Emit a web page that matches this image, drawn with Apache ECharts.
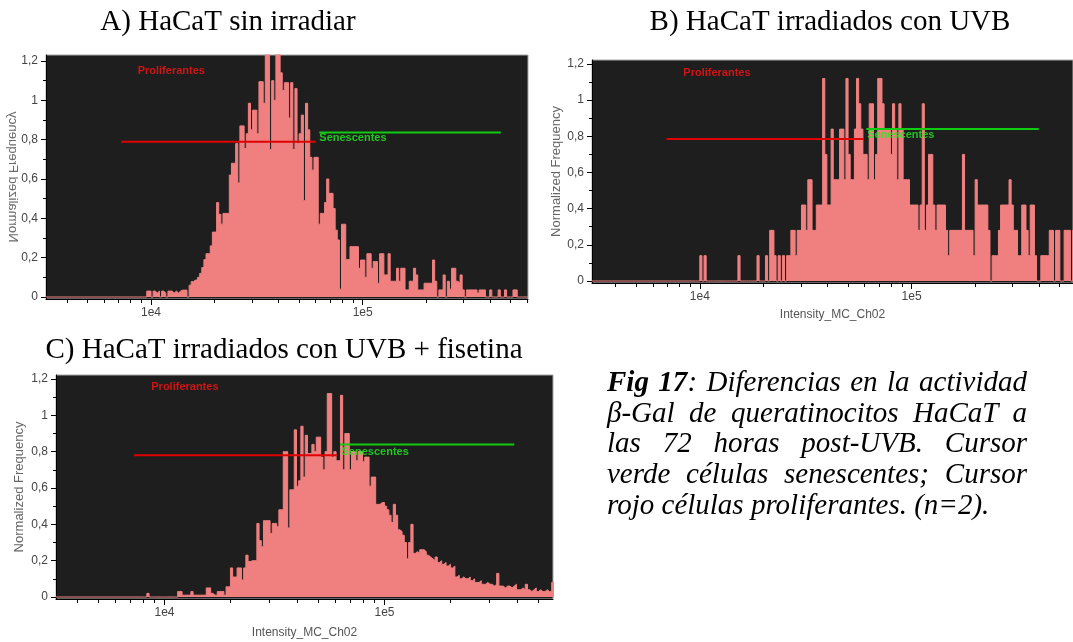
<!DOCTYPE html>
<html>
<head>
<meta charset="utf-8">
<script src="https://cdn.jsdelivr.net/npm/echarts@6/dist/echarts.min.js"></script>
<style>
html,body{margin:0;padding:0;background:#fff;}
#chart{position:absolute;left:0;top:0;width:1073px;height:642px;}
#caption{position:absolute;left:607px;top:366px;width:420px;font-family:"Liberation Serif","Times New Roman",serif;font-style:italic;font-size:29px;line-height:30.7px;color:#000;}
#caption div{text-align:justify;text-align-last:justify;white-space:nowrap;}
#caption div.last{text-align:left;text-align-last:left;}
</style>
</head>
<body>
<div id="chart"></div>
<div id="caption">
<div><b>Fig 17</b>: Diferencias en la actividad</div>
<div>β-Gal de queratinocitos HaCaT a</div>
<div>las 72 horas post-UVB. Cursor</div>
<div>verde células senescentes; Cursor</div>
<div class="last">rojo células proliferantes. (n=2).</div>
</div>
<script>
// ---------------- DATA ----------------
const panelTitles = ['A) HaCaT sin irradiar', 'B) HaCaT irradiados con UVB', 'C) HaCaT irradiados con UVB + fisetina'];
const yAxisName = 'Normalized Frequency';
const xAxisName = 'Intensity_MC_Ch02';
const cursorNames = ['Proliferantes', 'Senescentes'];

// histogram bins: equal width in log10(intensity)
const binWidthLogA = 0.01;
const binWidthLogB = 0.01;
const binWidthLogC = 0.01;
const startLogA = 3.98;
const startLogB = 3.98;
const startLogC = 3.90;

const freqA = [
  0.03,0.03,0,0.03,0.02,0.03,0,0.03,0.02,0,
  0.03,0.03,0.02,0.03,0.02,0.03,0.035,0.035,0.035,0,
  0.06,0.078,0.086,0.086,0.1,0.12,0.15,0.19,0.22,0.22,
  0.26,0.33,0.33,0.48,0.42,0.37,0.425,0.425,0.425,0.62,
  0.68,0.68,0.78,0.58,0.87,0.87,0.755,0.83,0.985,0.85,
  0.95,0.95,0.83,1.095,1.095,0.985,1.25,1.25,0.75,1.1,
  1.0,1.25,1.25,1.14,1.05,1.09,1.09,0.91,1.09,0.75,
  1.06,0.78,0.83,0.925,0.49,0.985,0.85,0.71,0.645,0.71,
  0.71,0.37,0.425,0.425,0.48,0.6,0.527,0.527,0.45,0.34,
  0.29,0.04,0.37,0.37,0.19,0.19,0.256,0.256,0.256,0.256,
  0.146,0.188,0.188,0.1,0.22,0.22,0.146,0.18,0.18,0.07,
  0.22,0.22,0.112,0.112,0.22,0.08,0.08,0.08,0.146,0.08,
  0.146,0.146,0.036,0.036,0.08,0.08,0.146,0.112,0.036,0.036,
  0.036,0.07,0.07,0.07,0.07,0.188,0.08,0,0.036,0.036,
  0.112,0,0.08,0.04,0.146,0.146,0.08,0.07,0.112,0.036,
  0,0.036,0.036,0.036,0.036,0.036,0.02,0.036,0.036,0.036,
  0,0,0.036,0,0,0,0.036,0,0,0.036,
  0,0,0,0.036,0.036,0,0
];
const freqB = [
  0,0,0.14,0,0.14,0,0,0,0,0,
  0,0,0,0,0,0,0,0,0,0,
  0.14,0,0,0,0,0,0,0,0,0.14,
  0,0,0,0.14,0,0.28,0.28,0.14,0,0.14,
  0,0.14,0,0.14,0.14,0.28,0.28,0.14,0.28,0.28,
  0.42,0.42,0.28,0.56,0.56,0.28,0.28,0.42,0.42,0.42,
  1.12,0.7,0.42,0.42,0.84,0.56,0.56,0.56,0.84,0.84,
  0.56,1.12,0.7,0.56,0.56,0.84,1.12,0.98,0.84,0.7,
  0.7,0.56,0.98,0.98,0.56,0.7,1.12,1.12,0.98,0.84,
  0.84,0.84,0.7,0.98,0.84,0.56,0.98,0.84,0.56,0.56,
  0.56,0.42,0.42,0.42,0.42,0.28,0.42,0.98,0.28,0.42,
  0.7,0.7,0.42,0.28,0.42,0.42,0.42,0.42,0.28,0.14,
  0.28,0.28,0.28,0.28,0.28,0.28,0.7,0.28,0.28,0.28,
  0.28,0.14,0.56,0.42,0.42,0.42,0.42,0.42,0.28,0,
  0.14,0.14,0.14,0.28,0.42,0.42,0.42,0.42,0.56,0.42,
  0.28,0.28,0.14,0.14,0.42,0.42,0.28,0.14,0.42,0.42,
  0.14,0,0,0.14,0.14,0.14,0.14,0.28,0.28,0,
  0.28,0.28,0,0,0.28,0.28,0.28,0,0.28
];
const freqC = [
  0,0,0.02,0,0,0,0,0,0,0,
  0,0,0,0,0,0,0.03,0.03,0.01,0.01,
  0.01,0.01,0.03,0.01,0.01,0.01,0.01,0.01,0.01,0.05,
  0.05,0.02,0.01,0.01,0.03,0.03,0.03,0.01,0.056,0.056,
  0.16,0.11,0.11,0.16,0.16,0.094,0.16,0.23,0.195,0.2,
  0.2,0.2,0.405,0.31,0.277,0.42,0.42,0.42,0.35,0.405,
  0.405,0.387,0.48,0.48,0.8,0.8,0.38,0.59,0.59,0.92,
  0.61,0.64,0.94,0.66,0.89,0.79,0.79,0.84,0.8,0.88,
  0.88,0.77,0.7,0.8,1.12,1.12,0.77,0.8,0.75,0.75,
  1.11,0.7,0.9,0.9,0.7,0.8,0.8,0.75,0.8,0.8,
  0.745,0.77,0.77,0.61,0.66,0.66,0.51,0.51,0.52,0.52,
  0.5,0.48,0.45,0.41,0.51,0.45,0.37,0.36,0.34,0.3,
  0.21,0.3,0.4,0.24,0.25,0.24,0.26,0.26,0.25,0.23,
  0.22,0.21,0.2,0.22,0.19,0.2,0.18,0.19,0.17,0.18,
  0.16,0.17,0.11,0.12,0.1,0.11,0.1,0.1,0.11,0.09,
  0.1,0.08,0.08,0.09,0.07,0.07,0.08,0.07,0.07,0.06,
  0.07,0.13,0.06,0.06,0.05,0.06,0.06,0.05,0.06,0.07,
  0.04,0.04,0.05,0.04,0.07,0.04,0.03,0.04,0.05,0.03,
  0.04,0.03,0.03,0.04,0.03,0.03,0.08
];

// cursors: [[x start, y], [x end, y]] in intensity units
const cursorRedA = [[7230, 0.79], [60100, 0.79]];
const cursorGreenA = [[62400, 0.837], [449000, 0.837]];
const cursorRedB = [[6960, 0.785], [59400, 0.785]];
const cursorGreenB = [[61100, 0.84], [398000, 0.84]];
const cursorRedC = [[7280, 0.78], [60700, 0.78]];
const cursorGreenC = [[62800, 0.84], [389000, 0.84]];
// cursor label anchors [x, y]
const labelProlifA = [8650, 1.15];
const labelSenescA = [62400, 0.81];
const labelProlifB = [8360, 1.15];
const labelSenescB = [61700, 0.807];
const labelProlifC = [8710, 1.157];
const labelSenescC = [63800, 0.80];

// ticks
const xMajorTicks = [1e4, 1e5];
const xMajorLabels = ['1e4', '1e5'];
const xMinorTicks = [3000,4000,5000,6000,7000,8000,9000,20000,30000,40000,50000,60000,70000,80000,90000,200000,300000,400000,500000,600000];
const yTickValues = [0, 0.2, 0.4, 0.6, 0.8, 1, 1.2];
const yMinorTickValues = [0.1, 0.3, 0.5, 0.7, 0.9, 1.1];

// ---------------- LAYOUT / STYLE ----------------
const FONT = '"Liberation Sans", Arial, sans-serif';
const SERIF = '"Liberation Serif", "Times New Roman", serif';
const PINK = '#f08080';
const BG = '#1e1e1e';

const panels = [
  {grid:{left:46, top:55, width:482, height:244}, xRange:[3.504, 5.781], yRange:[-0.0102, 1.2305],
   startLog:startLogA, binW:binWidthLogA, freq:freqA, red:cursorRedA, green:cursorGreenA, prolif:labelProlifA, senesc:labelSenescA,
   xName:'', yName:'', xNameGap:26, yNameGap:28},
  {grid:{left:592, top:60, width:486, height:223}, xRange:[3.491, 5.762], yRange:[-0.0111, 1.2221],
   startLog:startLogB, binW:binWidthLogB, freq:freqB, red:cursorRedB, green:cursorGreenB, prolif:labelProlifB, senesc:labelSenescB,
   xName:xAxisName, yName:yAxisName, xNameGap:26, yNameGap:28},
  {grid:{left:56, top:375, width:497, height:224}, xRange:[3.507, 5.766], yRange:[-0.011, 1.222],
   startLog:startLogC, binW:binWidthLogC, freq:freqC, red:cursorRedC, green:cursorGreenC, prolif:labelProlifC, senesc:labelSenescC,
   xName:xAxisName, yName:yAxisName, xNameGap:28, yNameGap:30}
];

const lg = v => Math.log10(v);

function histData(p) {
  const d = [[p.xRange[0], 0], [p.startLog, 0]];
  p.freq.forEach((v, i) => d.push([p.startLog + i * p.binW, v]));
  const endLog = p.startLog + p.freq.length * p.binW;
  d.push([endLog, p.freq[p.freq.length - 1]]);
  d.push([endLog, 0]);
  d.push([p.xRange[1], 0]);
  return d;
}

const grids = [], xAxes = [], yAxes = [], series = [];
const majorLog = xMajorTicks.map(lg);
const minorLog = xMinorTicks.map(lg);

panels.forEach((p, i) => {
  grids.push(Object.assign({show:true, backgroundColor:BG, borderColor:'#a8a8a8', borderWidth:1}, p.grid));
  const minorInRange = minorLog.filter(v => v > p.xRange[0] && v < p.xRange[1]);
  xAxes.push({
    type:'value', gridIndex:i, position:'bottom', min:p.xRange[0], max:p.xRange[1],
    axisLine:{show:true, onZero:false, lineStyle:{color:'#000', width:1}},
    splitLine:{show:false},
    axisTick:{show:true, customValues:majorLog, length:6, lineStyle:{color:'#000'}},
    axisLabel:{show:true, customValues:majorLog, margin:8, color:'#444', fontSize:12, fontFamily:FONT,
      formatter: v => { const k = majorLog.findIndex(m => Math.abs(m - v) < 1e-6); return k >= 0 ? xMajorLabels[k] : ''; }},
    name:p.xName, nameLocation:'middle', nameGap:p.xNameGap,
    nameTextStyle:{color:'#555', fontSize:12, fontFamily:FONT}
  });
  xAxes.push({
    type:'value', gridIndex:i, position:'bottom', min:p.xRange[0], max:p.xRange[1],
    axisLine:{show:false, onZero:false}, splitLine:{show:false},
    axisTick:{show:true, customValues:minorInRange, length:4, lineStyle:{color:'#000'}},
    axisLabel:{show:false}
  });
  yAxes.push({
    type:'value', gridIndex:i, position:'left', min:p.yRange[0], max:p.yRange[1],
    axisLine:{show:true, onZero:false, lineStyle:{color:'#000', width:1}},
    splitLine:{show:false},
    axisTick:{show:true, customValues:yTickValues, length:5, lineStyle:{color:'#000'}},
    axisLabel:{show:true, customValues:yTickValues, margin:8, color:'#444', fontSize:12, fontFamily:FONT,
      formatter: v => String(Math.round(v * 10) / 10).replace('.', ',')},
    name:p.yName, nameLocation:'middle', nameGap:p.yNameGap, nameRotate:90,
    nameTextStyle:{color:'#666', fontSize:13, fontFamily:FONT}
  });
  yAxes.push({
    type:'value', gridIndex:i, position:'left', min:p.yRange[0], max:p.yRange[1],
    axisLine:{show:false, onZero:false}, splitLine:{show:false},
    axisTick:{show:true, customValues:yMinorTickValues, length:3, lineStyle:{color:'#000'}},
    axisLabel:{show:false}
  });
  const xi = 2 * i, yi = 2 * i;
  series.push({
    type:'line', xAxisIndex:xi, yAxisIndex:yi, step:'end', symbol:'none', clip:true,
    data:histData(p), lineStyle:{color:PINK, width:1}, areaStyle:{color:PINK, opacity:1}, z:2, silent:true
  });
  series.push({
    type:'line', xAxisIndex:xi, yAxisIndex:yi, symbol:'none', clip:true,
    data:p.red.map(([x, y]) => [lg(x), y]), lineStyle:{color:'#e00000', width:2}, z:3, silent:true
  });
  series.push({
    type:'line', xAxisIndex:xi, yAxisIndex:yi, symbol:'none', clip:true,
    data:p.green.map(([x, y]) => [lg(x), y]), lineStyle:{color:'#10cc10', width:2}, z:3, silent:true
  });
  series.push({
    type:'scatter', xAxisIndex:xi, yAxisIndex:yi, symbolSize:0, z:4, silent:true,
    data:[
      {value:[lg(p.prolif[0]), p.prolif[1]], label:{show:true, position:'right', distance:0, formatter:cursorNames[0], color:'#ff1010', fontSize:11, fontWeight:'bold', fontFamily:FONT}},
      {value:[lg(p.senesc[0]), p.senesc[1]], label:{show:true, position:'right', distance:0, formatter:cursorNames[1], color:'#22ee22', fontSize:11, fontWeight:'bold', fontFamily:FONT}}
    ]
  });
});

const graphics = [
  {type:'text', x:228, y:22, style:{text:panelTitles[0], font:'29px ' + SERIF, fill:'#000', align:'center', verticalAlign:'middle'}},
  {type:'text', x:830, y:22, style:{text:panelTitles[1], font:'29px ' + SERIF, fill:'#000', align:'center', verticalAlign:'middle'}},
  {type:'text', x:284, y:350, style:{text:panelTitles[2], font:'29px ' + SERIF, fill:'#000', align:'center', verticalAlign:'middle'}},
  // mirrored axis name of panel A
  {type:'text', x:13, y:177, rotation:Math.PI / 2, scaleY:-1,
   style:{text:yAxisName, font:'13px ' + FONT, fill:'#6b6b6b', align:'center', verticalAlign:'middle'}}
];

const chart = echarts.init(document.getElementById('chart'), null, {renderer:'canvas', width:1073, height:642});
chart.setOption({
  animation:false,
  backgroundColor:'#fff',
  grid:grids, xAxis:xAxes, yAxis:yAxes, series:series, graphic:graphics
});
</script>
</body>
</html>
